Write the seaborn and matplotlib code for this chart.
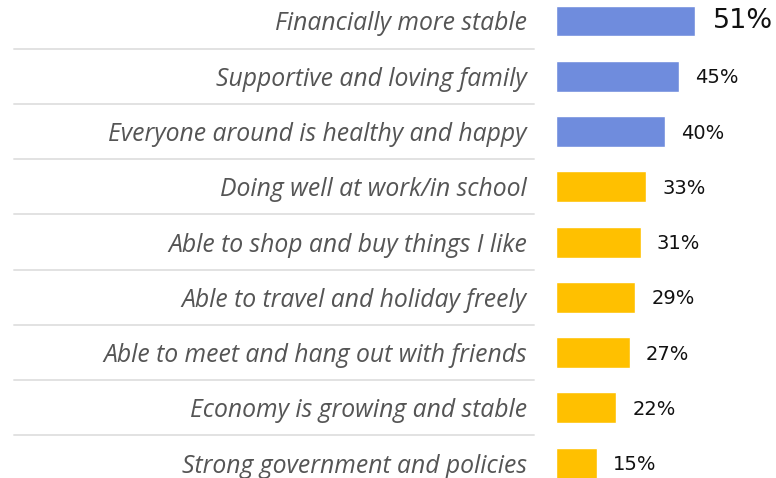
import matplotlib
matplotlib.use("Agg")
import matplotlib.pyplot as plt
import matplotlib.transforms as mtransforms
import seaborn as sns
import pandas as pd

# data
categories = [
    "Financially more stable",
    "Supportive and loving family",
    "Everyone around is healthy and happy",
    "Doing well at work/in school",
    "Able to shop and buy things I like",
    "Able to travel and holiday freely",
    "Able to meet and hang out with friends",
    "Economy is growing and stable",
    "Strong government and policies",
]
values = [51, 45, 40, 33, 31, 29, 27, 22, 15]
groups = ["top", "top", "top", "rest", "rest", "rest", "rest", "rest", "rest"]

df = pd.DataFrame({"label": categories, "pct": values, "group": groups})
palette = {"top": "#6f8cdd", "rest": "#ffc000"}

sns.set_theme(style="white")
plt.rcParams["font.family"] = ["Open Sans", "DejaVu Sans"]

fig = plt.figure(figsize=(7.76, 4.78), dpi=100)
ax = fig.add_axes([556 / 776, 0, 220 / 776, 1])

sns.barplot(data=df, y="label", x="pct", hue="group", palette=palette,
            dodge=False, width=0.56, legend=False, ax=ax, saturation=1)

ax.set_xlim(0, 220 / 2.73)
ax.set_ylim(8.27, -0.38)
ax.set_xlabel("")
ax.set_ylabel("")
ax.set_xticks([])
sns.despine(ax=ax, left=True, bottom=True)
ax.tick_params(axis="y", length=0, pad=21)
for t in ax.get_yticklabels():
    t.set_fontstyle("italic")
    t.set_fontsize(17.8)
    t.set_color("#555555")

# row separators
trans = mtransforms.blended_transform_factory(fig.transFigure, ax.transData)
for k in range(len(categories) - 1):
    ax.plot([14 / 776, 534 / 776], [k + 0.5, k + 0.5], transform=trans,
            color="#e2e2e2", lw=1.4, clip_on=False)

# value labels
for i, v in enumerate(values):
    if i == 0:
        ax.text(v + 6.4, i, f"{v}%", va="center", ha="left",
                fontsize=19.5, color="#111111", family="DejaVu Sans")
    else:
        ax.text(v + 5.9, i + 0.03, f"{v}%", va="center", ha="left",
                fontsize=14, color="#111111", family="DejaVu Sans")

fig.savefig("out.png", dpi=100)
